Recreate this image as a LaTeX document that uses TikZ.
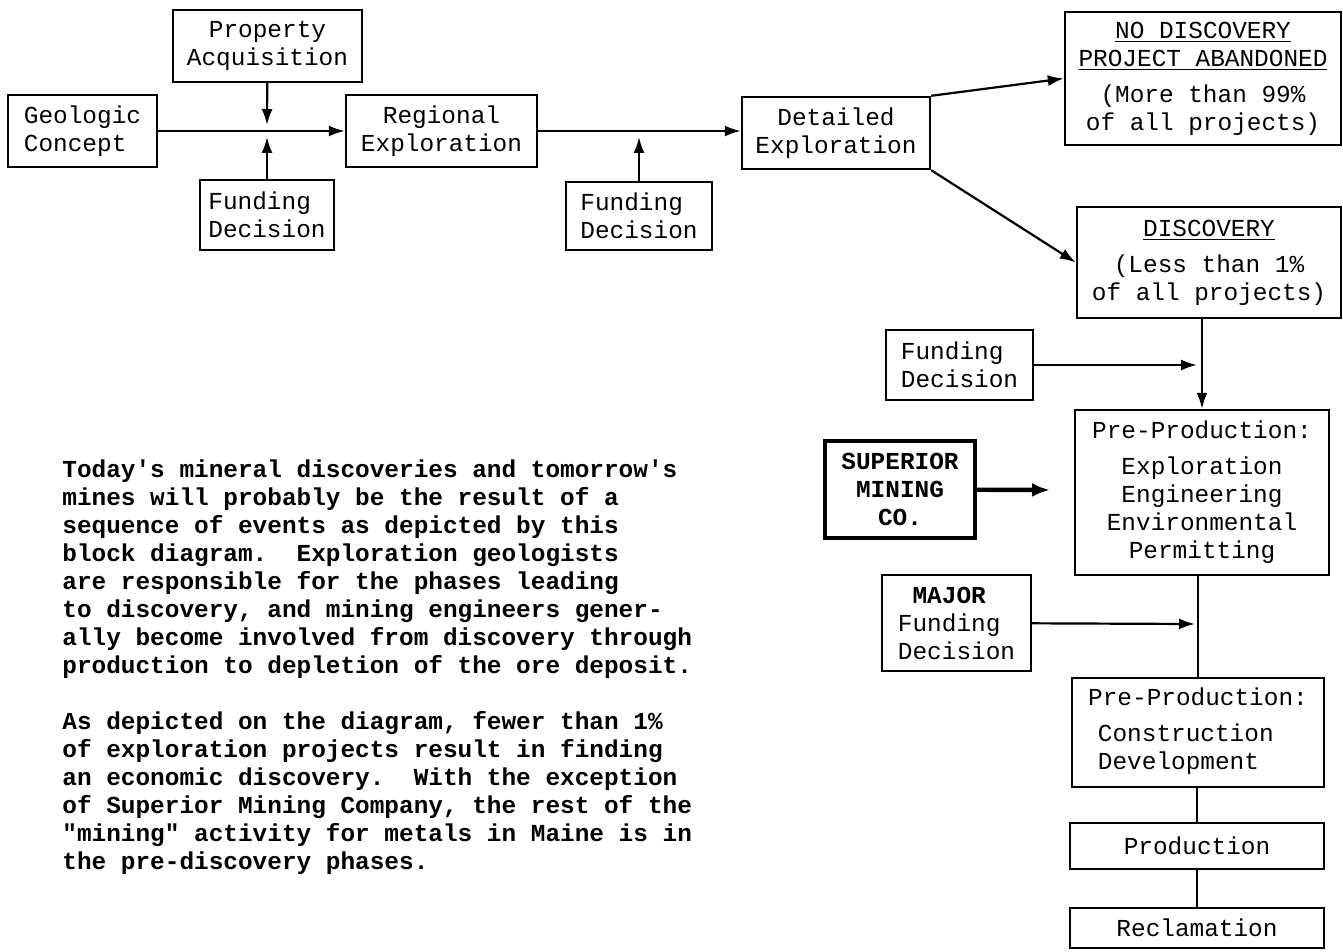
\documentclass[tikz,border=0pt]{standalone}
\usepackage{fontspec}
\setmonofont{Liberation Mono}
\usetikzlibrary{arrows.meta}
\tikzset{every picture/.style={x=0.5pt,y=-0.5pt}}
\tikzset{block/.style={draw,line width=1.2pt,inner sep=0pt,align=center,font=\ttfamily\fontsize{12.2}{14}\selectfont}}
\tikzset{boxsize/.style 2 args={minimum width=#1*0.5pt,minimum height=#2*0.5pt}}
\tikzset{strong/.style={line width=2.2pt,font=\ttfamily\bfseries\fontsize{12.2}{14}\selectfont}}
\tikzset{edge/.style={line width=1.1pt,-{Latex[length=8pt,width=5.5pt]}}}
\tikzset{heavy/.style={line width=2.2pt,-{Latex[length=9pt,width=7pt]}}}
\tikzset{link/.style={line width=1.1pt}}
\tikzset{note/.style={inner sep=0pt,align=left,font=\ttfamily\bfseries\fontsize{12.2}{14}\selectfont}}

\begin{document}
\begin{tikzpicture}
\useasboundingbox (0,0) rectangle (1343,952);

\node [block,boxsize={189}{72}] (prop) at (267.5,46) {Property\\Acquisition};
\node [block,boxsize={149}{72},align=left] (geo) at (82.5,131) {Geologic\\Concept};
\node [block,boxsize={134}{70},align=left] (fund1) at (267,215) {Funding\\Decision};
\node [block,boxsize={191}{72}] (reg) at (441.5,131) {Regional\\Exploration};
\node [block,boxsize={146}{68},align=left] (fund2) at (639,216) {Funding\\Decision};
\node [block,boxsize={188}{72}] (det) at (836,133) {Detailed\\Exploration};

\node [block,boxsize={276}{133}] (nodisc) at (1203,78.5)
  {\underline{NO DISCOVERY}\\\underline{PROJECT ABANDONED}\\[4pt](More than 99\%\\of all projects)};
\node [block,boxsize={264}{111}] (disc) at (1209,262.5)
  {\underline{DISCOVERY}\\[4pt](Less than 1\%\\of all projects)};

\node [block,boxsize={147}{70},align=left] (fund3) at (959.5,365) {Funding\\Decision};
\node [block,boxsize={254}{165}] (pre1) at (1202,492.5)
  {Pre-Production:\\[4pt]Exploration\\Engineering\\Environmental\\Permitting};
\node [block,strong,boxsize={150}{97}] (sup) at (900,489.5) {SUPERIOR\\MINING\\CO.};
\node [block,boxsize={149}{96},align=left] (major) at (956.5,623) {\hspace*{0.6em}\textbf{MAJOR}\\Funding\\Decision};
\node [block,boxsize={252}{109}] (pre2) at (1198,732.5)
  {Pre-Production:\\[4pt]\begin{tabular}[t]{@{}l@{}}Construction\\Development\end{tabular}\hspace*{1em}};
\node [block,boxsize={254}{46}] (prod) at (1197,846) {Production};
\node [block,boxsize={254}{40}] (recl) at (1197,928) {Reclamation};

\coordinate (j1) at (267,125);
\coordinate (j2) at (267,137);
\coordinate (j3) at (639,137);
\coordinate (f3) at (1197,365);
\coordinate (s1) at (1050,490);
\coordinate (m1) at (1195,624);

\draw [edge] (geo) -- (reg);
\draw [edge] (prop) -- (j1);
\draw [edge] (fund1) -- (j2);
\draw [edge] (reg) -- (reg -| det.west);
\draw [edge] (fund2) -- (j3);

\draw [edge] (det.north east) -- (nodisc.west);
\draw [edge] (det.south east) -- (disc.west);

\draw [edge] (pre1.north |- disc.south) -- (pre1.north);
\draw [edge] (fund3) -- (f3);
\draw [heavy] (sup) -- (s1);
\draw [edge] (major) -- (m1);

\draw [link] (pre2.north |- pre1.south) -- (pre2.north);
\draw [link] (prod.north |- pre2.south) -- (prod.north);
\draw [link] (prod) -- (recl);

\node [note,anchor=north west] (text) at (62,459) {\frenchspacing
Today's mineral discoveries and tomorrow's\\
mines will probably be the result of a\\
sequence of events as depicted by this\\
block diagram.~~Exploration geologists\\
are responsible for the phases leading\\
to discovery, and mining engineers gener-\\
ally become involved from discovery through\\
production to depletion of the ore deposit.\\[14pt]
As depicted on the diagram, fewer than 1\%\\
of exploration projects result in finding\\
an economic discovery.~~With the exception\\
of Superior Mining Company, the rest of the\\
"mining" activity for metals in Maine is in\\
the pre-discovery phases.};
\end{tikzpicture}
\end{document}
